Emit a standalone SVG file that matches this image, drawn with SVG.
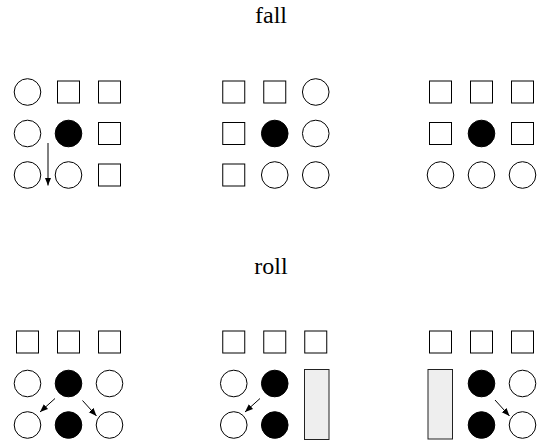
<svg xmlns="http://www.w3.org/2000/svg" width="540" height="440" viewBox="0 0 540 440">
<defs>
<style>
.t{font-family:"Liberation Serif","Times New Roman",serif;font-size:24px;fill:#000;text-anchor:middle}
.o{fill:#fff;stroke:#000;stroke-width:1}
.f{fill:#000;stroke:#000;stroke-width:1}
.s{fill:#fff;stroke:#000;stroke-width:1}
.w{fill:#eee;stroke:#222;stroke-width:1}
.a{stroke:#000;stroke-width:1;fill:none;marker-end:url(#ah)}
</style>
<marker id="ah" viewBox="0 0 10 10" refX="10" refY="5" markerWidth="8" markerHeight="8" markerUnits="userSpaceOnUse" orient="auto">
<path d="M0,1 L10,5 L0,9 Z" fill="#000"/>
</marker>
<circle id="c" r="13.3" class="o"/>
<circle id="b" r="13.3" class="f"/>
<rect id="q" x="-11" y="-11" width="22" height="22" class="s"/>
</defs>
<rect width="540" height="440" fill="#fff"/>
<text class="t" x="271" y="23">fall</text>
<text class="t" x="271" y="274">roll</text>

<g id="fall1">
<use href="#c" x="27.5" y="92"/><use href="#q" x="68.5" y="92"/><use href="#q" x="109.5" y="92"/>
<use href="#c" x="27.5" y="133.5"/><use href="#b" x="68.5" y="133.5"/><use href="#q" x="109.5" y="133.5"/>
<use href="#c" x="27.5" y="175"/><use href="#c" x="68.5" y="175"/><use href="#q" x="109.5" y="175"/>
</g>
<g id="fall2">
<use href="#q" x="233.75" y="92"/><use href="#q" x="274.75" y="92"/><use href="#c" x="315.75" y="92"/>
<use href="#q" x="233.75" y="133.5"/><use href="#b" x="274.75" y="133.5"/><use href="#c" x="315.75" y="133.5"/>
<use href="#q" x="233.75" y="175"/><use href="#c" x="274.75" y="175"/><use href="#c" x="315.75" y="175"/>
</g>
<g id="fall3">
<use href="#q" x="440.5" y="92"/><use href="#q" x="481.5" y="92"/><use href="#q" x="522.5" y="92"/>
<use href="#q" x="440.5" y="133.5"/><use href="#b" x="481.5" y="133.5"/><use href="#q" x="522.5" y="133.5"/>
<use href="#c" x="440.5" y="175"/><use href="#c" x="481.5" y="175"/><use href="#c" x="522.5" y="175"/>
</g>

<g id="roll1">
<use href="#q" x="27.5" y="342"/><use href="#q" x="68.5" y="342"/><use href="#q" x="109.5" y="342"/>
<use href="#c" x="27.5" y="383.5"/><use href="#b" x="68.5" y="383.5"/><use href="#c" x="109.5" y="383.5"/>
<use href="#c" x="27.5" y="425"/><use href="#b" x="68.5" y="425"/><use href="#c" x="109.5" y="425"/>
</g>
<g id="roll2">
<use href="#q" x="233.75" y="342"/><use href="#q" x="274.75" y="342"/><use href="#q" x="315.75" y="342"/>
<use href="#c" x="233.75" y="383.5"/><use href="#b" x="274.75" y="383.5"/>
<use href="#c" x="233.75" y="425"/><use href="#b" x="274.75" y="425"/>
<rect class="w" x="304.5" y="369.5" width="24.5" height="70"/>
</g>
<g id="roll3">
<use href="#q" x="440.5" y="342"/><use href="#q" x="481.5" y="342"/><use href="#q" x="522.5" y="342"/>
<rect class="w" x="428" y="369.5" width="24.5" height="69.5"/>
<use href="#b" x="481.5" y="383.5"/><use href="#c" x="522.5" y="383.5"/>
<use href="#b" x="481.5" y="425"/><use href="#c" x="522.5" y="425"/>
</g>

<g id="connectors">
<line class="a" x1="48" y1="143" x2="48" y2="185.5"/>
<line class="a" x1="55" y1="398.5" x2="40" y2="412"/>
<line class="a" x1="82.5" y1="400.5" x2="96.5" y2="416"/>
<line class="a" x1="260" y1="398.5" x2="245" y2="412"/>
<line class="a" x1="495" y1="400" x2="509.5" y2="416"/>
</g>
</svg>
